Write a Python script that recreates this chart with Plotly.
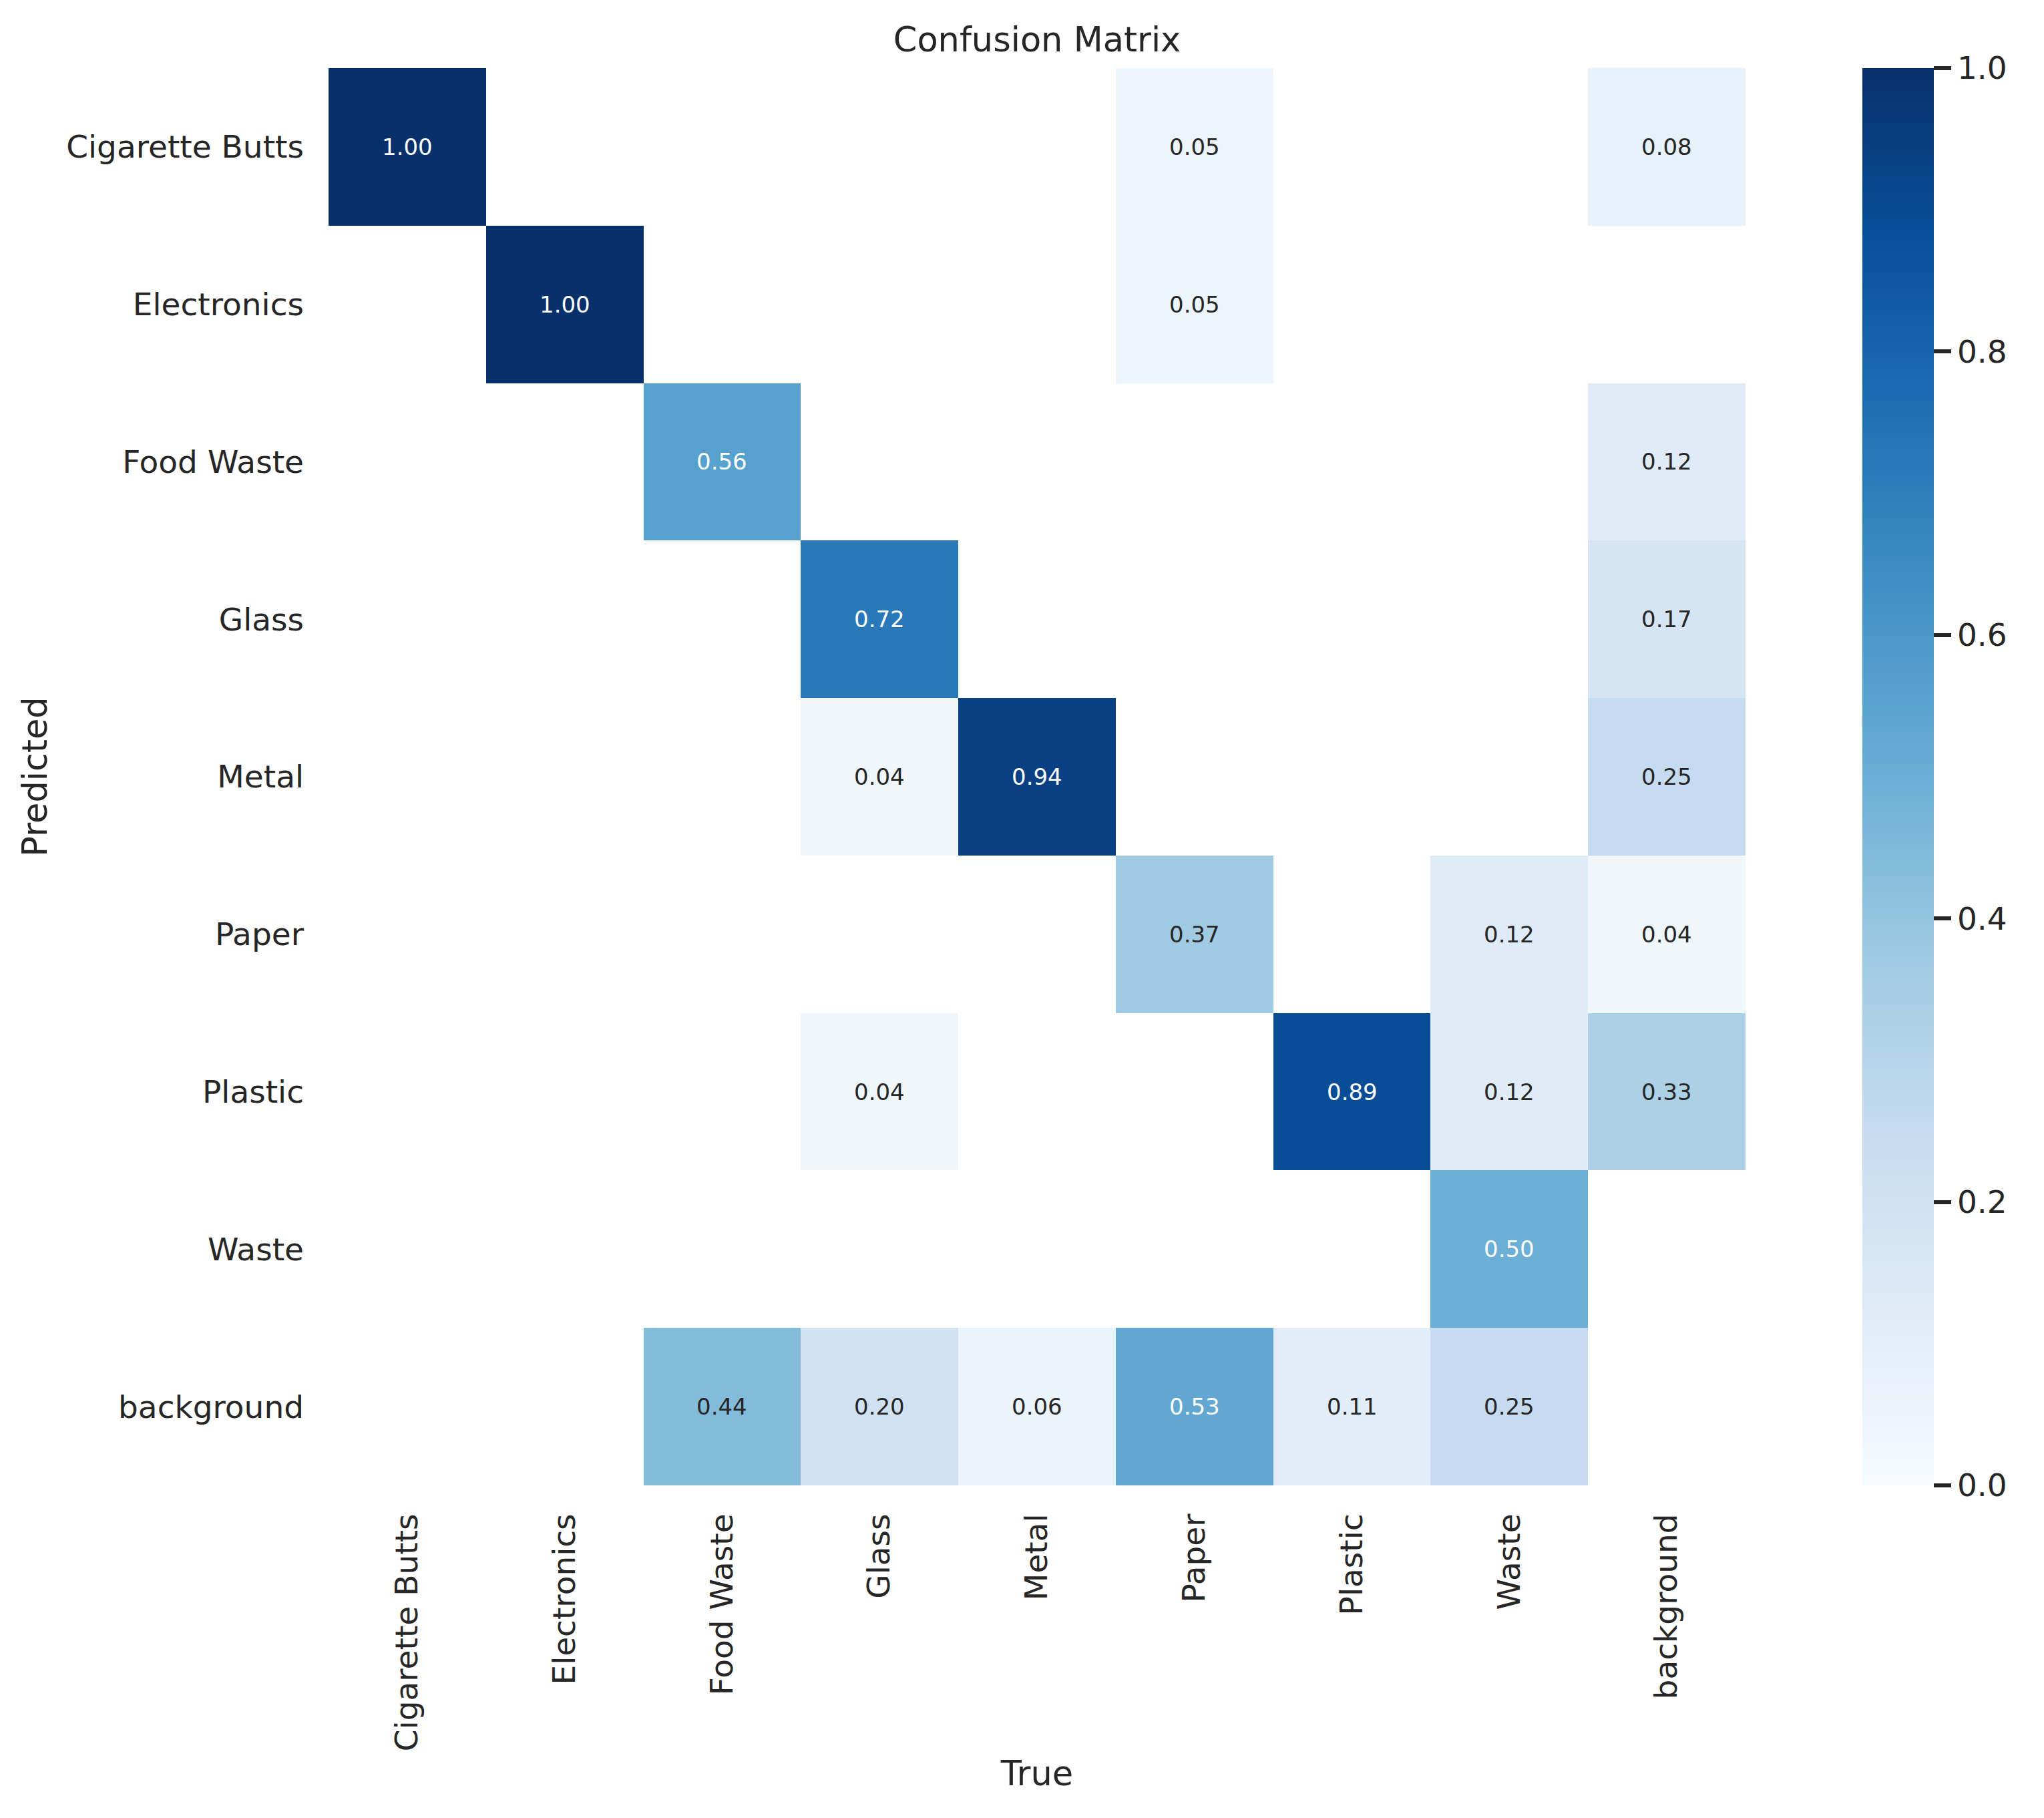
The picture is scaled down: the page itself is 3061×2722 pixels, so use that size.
#! /usr/bin/env python3

import plotly.graph_objects as go

# rows = predicted class, columns = true class (column-normalised)
true_labels = ["Cigarette Butts", "Electronics", "Food Waste", "Glass", "Metal",
               "Paper", "Plastic", "Waste", "background"]
pred_labels = ["Cigarette Butts", "Electronics", "Food Waste", "Glass", "Metal",
               "Paper", "Plastic", "Waste", "background"]

row_cigarette = [1.00, 0, 0, 0, 0, 0.05, 0, 0, 0.08]
row_electronics = [0, 1.00, 0, 0, 0, 0.05, 0, 0, 0]
row_food = [0, 0, 0.56, 0, 0, 0, 0, 0, 0.12]
row_glass = [0, 0, 0, 0.72, 0, 0, 0, 0, 0.17]
row_metal = [0, 0, 0, 0.04, 0.94, 0, 0, 0, 0.25]
row_paper = [0, 0, 0, 0, 0, 0.37, 0, 0.12, 0.04]
row_plastic = [0, 0, 0, 0.04, 0, 0, 0.89, 0.12, 0.33]
row_waste = [0, 0, 0, 0, 0, 0, 0, 0.50, 0]
row_background = [0, 0, 0.44, 0.20, 0.06, 0.53, 0.11, 0.25, 0]

matrix = [row_cigarette, row_electronics, row_food, row_glass, row_metal,
          row_paper, row_plastic, row_waste, row_background]

# matplotlib "Blues"
blues = ["#f7fbff", "#deebf7", "#c6dbef", "#9ecae1", "#6baed6",
         "#4292c6", "#2171b5", "#08519c", "#08306b"]
colorscale = [[i / (len(blues) - 1), c] for i, c in enumerate(blues)]

FONT = "DejaVu Sans"
INK = "#262626"


def lum(v):
    # relative luminance of the colour at v, like seaborn picks annot colour
    pos = v * (len(blues) - 1)
    i = min(int(pos), len(blues) - 2)
    f = pos - i
    a = [int(blues[i][k:k + 2], 16) for k in (1, 3, 5)]
    b = [int(blues[i + 1][k:k + 2], 16) for k in (1, 3, 5)]
    rgb = [(a[k] + (b[k] - a[k]) * f) / 255 for k in range(3)]
    rgb = [c / 12.92 if c <= 0.03928 else ((c + 0.055) / 1.055) ** 2.4 for c in rgb]
    return 0.2126 * rgb[0] + 0.7152 * rgb[1] + 0.0722 * rgb[2]


z = [[v if v > 0 else None for v in row] for row in matrix]

fig = go.Figure(
    go.Heatmap(
        z=z,
        x=true_labels,
        y=pred_labels,
        zmin=0,
        zmax=1,
        colorscale=colorscale,
        hoverongaps=False,
        colorbar=dict(
            thickness=107,
            thicknessmode="pixels",
            len=1,
            lenmode="fraction",
            x=1.0825,
            xanchor="left",
            xpad=0,
            ypad=0,
            y=0.5,
            yanchor="middle",
            outlinewidth=0,
            ticks="outside",
            ticklen=26,
            tickwidth=6,
            tickcolor=INK,
            tickvals=[0, 0.2, 0.4, 0.6, 0.8, 1.0],
            tickformat=".1f",
            tickfont=dict(family=FONT, size=47, color=INK),
        ),
    )
)

annotations = []
for r, row in enumerate(matrix):
    for c, v in enumerate(row):
        if v <= 0:
            continue
        annotations.append(dict(
            x=true_labels[c], y=pred_labels[r], text=f"{v:.2f}",
            showarrow=False,
            font=dict(family=FONT, size=34,
                      color=INK if lum(v) > 0.408 else "#ffffff"),
        ))

# page body has an 8px margin, so the figure is 8px smaller on each axis
fig.update_layout(
    width=3053,
    height=2714,
    autosize=False,
    margin=dict(l=484, r=447, t=94, b=498),
    paper_bgcolor="white",
    plot_bgcolor="white",
    font=dict(family=FONT, color=INK),
    title=dict(text="Confusion Matrix", x=0.5, xref="paper", xanchor="center",
               y=1 - 51 / 2714, yref="container", yanchor="middle",
               font=dict(family=FONT, size=51, color=INK)),
    annotations=annotations,
)
fig.update_xaxes(
    title=dict(text="True", font=dict(family=FONT, size=51, color=INK), standoff=16),
    tickangle=-90,
    tickfont=dict(family=FONT, size=47, color=INK),
    ticks="",
    ticklabelstandoff=32,
    showgrid=False,
    zeroline=False,
    showline=False,
)
fig.update_yaxes(
    title=dict(text="Predicted", font=dict(family=FONT, size=51, color=INK), standoff=12),
    autorange="reversed",
    tickfont=dict(family=FONT, size=47, color=INK),
    ticks="",
    ticklabelstandoff=36,
    showgrid=False,
    zeroline=False,
    showline=False,
)

fig.write_html("out.html")
